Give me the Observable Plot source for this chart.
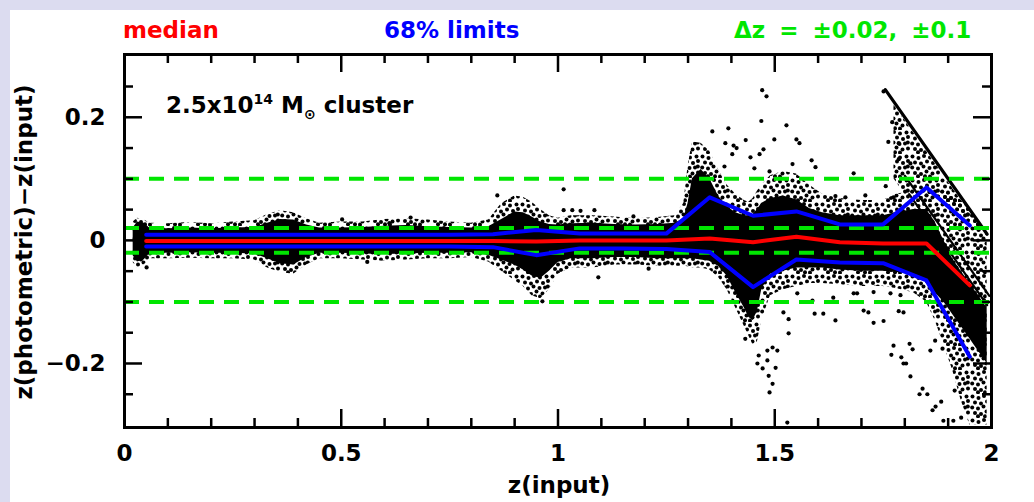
<!DOCTYPE html>
<html><head><meta charset="utf-8">
<script src="https://cdn.jsdelivr.net/npm/d3@7"></script>
<script src="https://cdn.jsdelivr.net/npm/@observablehq/plot@0.6"></script>
<style>
html,body{margin:0;padding:0;}
body{width:1034px;height:502px;background:#dcdcf0;position:relative;overflow:hidden;font-family:"DejaVu Sans",sans-serif;font-weight:bold;}
#panel{position:absolute;left:10px;top:10px;width:1024px;height:492px;background:#fff;}
.t{position:absolute;font-size:23px;line-height:23px;white-space:pre;}
</style></head><body>
<div id="panel"></div>
<div class="t" style="left:123px;top:19px;color:#ff0000">median</div>
<div class="t" style="left:384px;top:19px;color:#0000ff">68% limits</div>
<div class="t" style="left:734px;top:19px;color:#00e600;word-spacing:6px">Δz = ±0.02, ±0.1</div>
<div class="t" style="left:166px;top:94px;color:#000">2.5x10<span style="font-size:14px;position:relative;top:-9px">14</span> M<span style="font-size:14px;position:relative;top:6px">⊙</span> cluster</div>
<div class="t" style="left:559px;top:474px;color:#000;transform:translateX(-50%)">z(input)</div>
<div class="t" style="left:24px;top:242px;color:#000;transform:translate(-50%,-50%) rotate(-90deg)">z(photometric)−z(input)</div>
<script>
// ---- data ----
const binZ      = [0.05,0.15,0.25,0.35,0.45,0.55,0.65,0.75,0.85,0.95,1.05,1.15,1.25,1.35,1.45,1.55,1.65,1.75,1.85,1.95];
const medianDz  = [-0.001,-0.001,-0.001,-0.001,-0.001,-0.001,-0.001,-0.001,-0.001,-0.002,0.000,0.000,0.000,0.003,-0.003,0.006,-0.003,-0.005,-0.005,-0.073];
const upper68   = [0.009,0.009,0.009,0.009,0.009,0.009,0.009,0.009,0.010,0.017,0.011,0.011,0.011,0.070,0.040,0.047,0.026,0.026,0.086,0.024];
const lower68   = [-0.010,-0.010,-0.010,-0.010,-0.010,-0.010,-0.010,-0.010,-0.011,-0.024,-0.013,-0.013,-0.014,-0.019,-0.076,-0.031,-0.036,-0.037,-0.065,-0.189];

const cloudZ        = [0.02,0.03,0.045,0.06,0.1,0.15,0.2,0.25,0.3,0.33,0.36,0.39,0.42,0.45,0.5,0.55,0.6,0.65,0.7,0.75,0.8,0.84,0.87,0.9,0.92,0.94,0.96,0.98,1.0,1.03,1.08,1.13,1.18,1.23,1.27,1.29,1.30,1.31,1.33,1.35,1.37,1.39,1.41,1.43,1.44,1.45,1.46,1.47,1.49,1.52,1.55,1.58,1.61,1.65,1.70,1.75,1.78,1.82,1.85,1.87,1.89,1.91,1.93,1.95,1.97,1.99];
const cloudOuterTop = [0.03,0.036,0.033,0.028,0.027,0.029,0.027,0.03,0.032,0.042,0.048,0.045,0.035,0.028,0.03,0.03,0.034,0.035,0.033,0.03,0.028,0.033,0.06,0.072,0.07,0.062,0.05,0.04,0.036,0.04,0.04,0.038,0.035,0.037,0.04,0.06,0.12,0.16,0.158,0.145,0.115,0.09,0.075,0.065,0.062,0.068,0.08,0.09,0.105,0.112,0.108,0.09,0.075,0.068,0.065,0.065,0.075,0.08,0.08,0.08,0.08,0.075,0.065,0.05,0.03,0.01];
const cloudOuterBot = [-0.036,-0.045,-0.04,-0.03,-0.03,-0.029,-0.03,-0.03,-0.032,-0.045,-0.052,-0.055,-0.04,-0.03,-0.03,-0.032,-0.034,-0.032,-0.03,-0.03,-0.028,-0.035,-0.05,-0.065,-0.075,-0.09,-0.095,-0.08,-0.055,-0.045,-0.045,-0.04,-0.04,-0.042,-0.042,-0.042,-0.043,-0.045,-0.045,-0.048,-0.06,-0.08,-0.11,-0.14,-0.155,-0.17,-0.165,-0.13,-0.09,-0.08,-0.075,-0.07,-0.07,-0.072,-0.075,-0.075,-0.078,-0.085,-0.1,-0.13,-0.17,-0.21,-0.26,-0.30,-0.30,-0.30];
const cloudCoreTop  = [0.02,0.03,0.028,0.019,0.019,0.02,0.019,0.02,0.021,0.028,0.034,0.033,0.025,0.02,0.02,0.021,0.023,0.024,0.022,0.021,0.02,0.022,0.034,0.046,0.045,0.038,0.03,0.026,0.025,0.027,0.028,0.026,0.025,0.026,0.028,0.035,0.06,0.1,0.115,0.1,0.072,0.055,0.045,0.04,0.04,0.042,0.05,0.06,0.068,0.072,0.066,0.052,0.045,0.04,0.04,0.04,0.045,0.05,0.05,0.03,0.0,-0.03,-0.05,-0.07,-0.09,-0.11];
const cloudCoreBot  = [-0.025,-0.035,-0.032,-0.02,-0.021,-0.02,-0.021,-0.021,-0.022,-0.03,-0.038,-0.04,-0.028,-0.021,-0.021,-0.022,-0.023,-0.022,-0.021,-0.021,-0.02,-0.024,-0.032,-0.04,-0.048,-0.058,-0.062,-0.05,-0.036,-0.03,-0.03,-0.028,-0.028,-0.03,-0.03,-0.03,-0.03,-0.03,-0.032,-0.034,-0.042,-0.058,-0.085,-0.11,-0.125,-0.13,-0.115,-0.08,-0.055,-0.05,-0.045,-0.045,-0.045,-0.048,-0.05,-0.05,-0.052,-0.055,-0.065,-0.085,-0.1,-0.12,-0.14,-0.16,-0.18,-0.2];

const wedgeZ   = [1.775,1.80,1.83,1.86,1.90,1.94,1.98];
const wedgeTop = [0.22,0.195,0.165,0.135,0.095,0.055,0.015];
const wedgeBot = [0.10,0.075,0.07,0.07,0.06,0.04,0.01];

const streakZphot = [2.0,1.905,1.885,1.865];
const streakStart = [1.755,1.80,1.81,1.82];
const streakEnd   = [1.99,1.995,1.99,1.985];

const outlierZ  = [1.471,1.481,1.469,1.527,1.356,1.393,1.433,1.499,1.550,1.557,1.386,1.405,1.412,1.402,1.474,1.465,1.444,1.541,1.585,1.594,1.453,1.488,1.384,1.682,1.756,1.762,1.771,1.786,1.751,1.786,1.813,1.640,1.709,1.663,1.774,
  1.209,1.432,1.463,1.460,1.483,1.472,1.502,1.486,1.495,1.488,1.483,1.495,1.506,1.529,1.520,1.532,1.532,1.552,1.592,1.612,1.635,1.640,1.587,1.774,1.769,1.811,1.818,1.792,1.797,1.803,1.813,1.841,1.834,1.852,1.884,1.871,1.864,1.859,1.870,1.887,1.915,1.889,1.912,1.930,1.682,1.690,1.728,1.767,1.790,1.705,1.716,1.786,1.797,1.728,1.751,
  0.502,0.660,0.560,0.611,0.051,0.860,1.013,0.964,1.013,1.033,1.052,1.084,1.174,1.093];
const outlierDz = [0.244,0.234,0.194,0.187,0.177,0.182,0.163,0.164,0.164,0.158,0.158,0.154,0.150,0.140,0.148,0.140,0.135,0.124,0.130,0.119,0.117,0.112,0.120,0.109,0.088,0.160,0.192,0.132,0.242,0.158,0.125,0.072,0.073,0.070,0.070,
  -0.046,-0.160,-0.187,-0.200,-0.195,-0.208,-0.207,-0.220,-0.233,-0.247,-0.179,-0.174,-0.179,-0.296,-0.117,-0.128,-0.151,-0.086,-0.119,-0.119,-0.093,-0.130,-0.098,-0.171,-0.186,-0.168,-0.177,-0.190,-0.200,-0.200,-0.221,-0.241,-0.250,-0.250,-0.262,-0.270,-0.276,-0.179,-0.163,-0.176,-0.244,-0.293,-0.293,-0.288,-0.086,-0.086,-0.084,-0.086,-0.089,-0.114,-0.117,-0.115,-0.117,-0.134,-0.131,
  0.034,0.037,-0.035,0.028,-0.044,0.073,0.083,-0.099,0.049,0.049,0.048,0.049,0.039,-0.060];

const limitLevels = [0.02,-0.02,0.1,-0.1];
const xMajor = [0,0.5,1,1.5,2];
const xMinor = [0.1,0.2,0.3,0.4,0.6,0.7,0.8,0.9,1.1,1.2,1.3,1.4,1.6,1.7,1.8,1.9];
const yMajor = [-0.2,0,0.2];
const yMinor = [-0.25,-0.15,-0.1,-0.05,0.05,0.1,0.15,0.25];
const xTickLabels = ["0","0.5","1","1.5","2"];
const yTickLabels = ["−0.2","0","0.2"];

// ---- tables ----
const cloud = cloudZ.map((z,i)=>({z, ot:cloudOuterTop[i], ob:cloudOuterBot[i], ct:cloudCoreTop[i], cb:cloudCoreBot[i]}));
const wedge = wedgeZ.map((z,i)=>({z, t:wedgeTop[i], b:wedgeBot[i]}));
const streaks = streakZphot.flatMap((zp,i)=>[
  {id:i, z:streakStart[i], dz:zp-streakStart[i]},
  {id:i, z:streakEnd[i],   dz:zp-streakEnd[i]}]);
const outliers = outlierZ.map((z,i)=>({z, dz:outlierDz[i]}));
const bins = binZ.map((z,i)=>({z, med:medianDz[i], up:upper68[i], lo:lower68[i]}));

const FH = 373, FW = 867, MAJ = 18, MIN = 9, TW = 2.5;

const chart = Plot.plot({
  width: 1024, height: 492,
  marginLeft: 114, marginRight: 43, marginTop: 44, marginBottom: 75,
  x: {domain: [0, 2]},
  y: {domain: [-0.304, 0.302]},
  style: {background: "white", fontFamily: "DejaVu Sans", fontWeight: "bold", fontSize: "23px", color: "black", overflow: "visible"},
  marks: [
    Plot.areaY(cloud, {x:"z", y1:"ob", y2:"ot", fill:"url(#spk)", clip:true}),
    Plot.areaY(wedge, {x:"z", y1:"b", y2:"t", fill:"url(#spk)", clip:true}),
    Plot.areaY(cloud, {x:"z", y1:"cb", y2:"ct", fill:"black", clip:true}),
    Plot.dot(outliers, {x:"z", y:"dz", r:2.1, fill:"black", clip:true}),
    Plot.line(streaks, {x:"z", y:"dz", z:"id", stroke:"black", strokeWidth:d=>d.id===0?3.2:2.2, clip:true}),
    Plot.ruleY(limitLevels, {stroke:"#00e600", strokeWidth:4, strokeDasharray:"15,10"}),
    Plot.line(bins, {x:"z", y:"up", stroke:"#0000ff", strokeWidth:4}),
    Plot.line(bins, {x:"z", y:"lo", stroke:"#0000ff", strokeWidth:4}),
    Plot.line(bins, {x:"z", y:"med", stroke:"#ff0000", strokeWidth:4}),
    Plot.tickX(xMajor, {x:d=>d, insetTop:FH-MAJ, strokeWidth:TW}),
    Plot.tickX(xMinor, {x:d=>d, insetTop:FH-MIN, strokeWidth:TW}),
    Plot.tickX(xMajor, {x:d=>d, insetBottom:FH-MAJ, strokeWidth:TW}),
    Plot.tickX(xMinor, {x:d=>d, insetBottom:FH-MIN, strokeWidth:TW}),
    Plot.tickY(yMajor, {y:d=>d, insetRight:FW-MAJ, strokeWidth:TW}),
    Plot.tickY(yMinor, {y:d=>d, insetRight:FW-MIN, strokeWidth:TW}),
    Plot.tickY(yMajor, {y:d=>d, insetLeft:FW-MAJ, strokeWidth:TW}),
    Plot.tickY(yMinor, {y:d=>d, insetLeft:FW-MIN, strokeWidth:TW}),
    Plot.frame({stroke:"black", strokeWidth:3}),
    Plot.axisX(xMajor, {tickSize:0, tickPadding:17, fontSize:23, tickFormat:(d,i)=>xTickLabels[i], label:null}),
    Plot.axisY(yMajor, {tickSize:0, tickPadding:19, fontSize:23, tickFormat:(d,i)=>yTickLabels[i], label:null})
  ]
});

// irregular speckle texture for the less dense parts of the point cloud (styling only)
const spots = [[2.5,2.5],[8.5,4],[14,2],[20,3.5],[26.5,2.5],[5,8.5],[11,9.5],[17,7.5],[23,9],[28,7],
  [2.2,13.5],[8,14.5],[13.5,12.5],[19.5,14],[25,13.5],[5,19],[11,20],[16.5,17.5],[22.5,19.5],[28,18.5],
  [8,22.3],[15,22.2],[20,22.5],[27.8,12.5]];
const defs = document.createElementNS("http://www.w3.org/2000/svg", "defs");
defs.innerHTML = '<pattern id="spk" width="30" height="24" patternUnits="userSpaceOnUse">' +
  spots.map(([cx,cy])=>`<circle cx="${cx}" cy="${cy}" r="2" fill="black"/>`).join("") + '</pattern>';
chart.insertBefore(defs, chart.firstChild);
chart.style.position = "absolute";
chart.style.left = "10px";
chart.style.top = "10px";
document.body.insertBefore(chart, document.getElementById("panel").nextSibling);
</script>
</body></html>
